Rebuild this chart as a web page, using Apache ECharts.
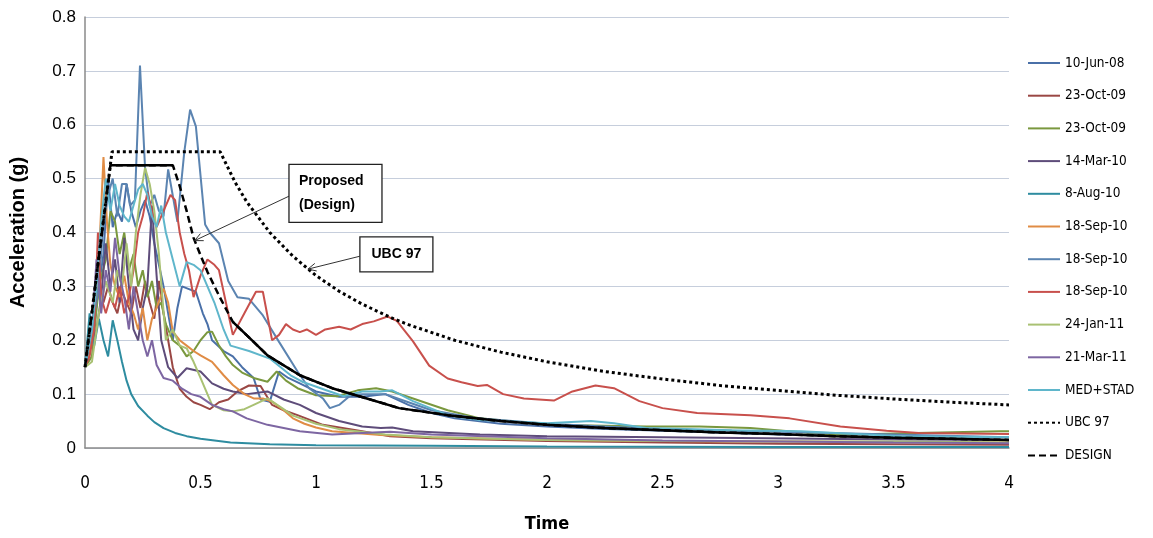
<!DOCTYPE html>
<html>
<head>
<meta charset="utf-8">
<script src="https://cdn.jsdelivr.net/npm/echarts@6/dist/echarts.min.js"></script>
<style>
  html, body { margin: 0; padding: 0; background: #fff; }
  #chart { width: 1153px; height: 538px; }
</style>
</head>
<body>
<div id="chart"></div>
<script>
// Response spectra of recorded ground motions, [period (s), spectral acceleration (g)]
const rec10Jun08 = [[0,0.15],[0.03,0.2],[0.06,0.3],[0.08,0.36],[0.1,0.5],[0.12,0.41],[0.14,0.44],[0.16,0.42],[0.18,0.49],[0.2,0.44],[0.22,0.41],[0.24,0.44],[0.26,0.46],[0.28,0.43],[0.3,0.38],[0.32,0.34],[0.34,0.3],[0.36,0.25],[0.38,0.2],[0.4,0.26],[0.42,0.3],[0.45,0.295],[0.48,0.29],[0.51,0.25],[0.53,0.23],[0.55,0.2],[0.6,0.18],[0.64,0.17],[0.68,0.15],[0.73,0.13],[0.76,0.09],[0.8,0.086],[0.84,0.142],[0.88,0.13],[0.93,0.12],[1.0,0.105],[1.1,0.095],[1.2,0.095],[1.3,0.1],[1.4,0.08],[1.5,0.065],[1.6,0.055],[1.8,0.045],[2.0,0.04],[2.2,0.036],[2.5,0.032],[3.0,0.025],[3.5,0.02],[4.0,0.015]];
const rec23Oct09a = [[0,0.15],[0.03,0.2],[0.06,0.3],[0.08,0.27],[0.1,0.3],[0.12,0.27],[0.14,0.25],[0.16,0.29],[0.18,0.27],[0.2,0.25],[0.22,0.3],[0.24,0.26],[0.26,0.31],[0.28,0.27],[0.3,0.24],[0.32,0.31],[0.34,0.25],[0.36,0.2],[0.38,0.15],[0.41,0.11],[0.44,0.095],[0.47,0.085],[0.5,0.08],[0.54,0.072],[0.58,0.085],[0.62,0.09],[0.66,0.105],[0.71,0.116],[0.76,0.115],[0.81,0.08],[0.86,0.07],[0.92,0.061],[1.03,0.043],[1.2,0.031],[1.32,0.022],[1.5,0.018],[2.0,0.013],[2.5,0.01],[3.0,0.008],[3.5,0.007],[4.0,0.006]];
const rec23Oct09b = [[0,0.15],[0.03,0.17],[0.06,0.3],[0.09,0.35],[0.11,0.44],[0.13,0.42],[0.15,0.36],[0.17,0.4],[0.19,0.33],[0.21,0.36],[0.23,0.3],[0.25,0.33],[0.27,0.28],[0.29,0.31],[0.31,0.26],[0.33,0.27],[0.35,0.23],[0.38,0.2],[0.41,0.19],[0.44,0.17],[0.47,0.18],[0.5,0.2],[0.53,0.215],[0.55,0.216],[0.58,0.19],[0.61,0.17],[0.64,0.154],[0.68,0.14],[0.73,0.13],[0.79,0.123],[0.83,0.142],[0.87,0.125],[0.92,0.111],[1.0,0.098],[1.09,0.096],[1.18,0.107],[1.26,0.111],[1.33,0.105],[1.42,0.092],[1.57,0.07],[1.71,0.055],[2.0,0.043],[2.43,0.04],[2.66,0.04],[2.88,0.037],[3.24,0.024],[3.6,0.028],[3.96,0.031],[4.0,0.031]];
const rec14Mar10 = [[0,0.15],[0.03,0.2],[0.05,0.22],[0.07,0.28],[0.09,0.38],[0.11,0.3],[0.13,0.35],[0.15,0.27],[0.17,0.39],[0.19,0.3],[0.21,0.22],[0.23,0.2],[0.25,0.26],[0.27,0.3],[0.29,0.45],[0.31,0.32],[0.33,0.2],[0.36,0.15],[0.4,0.13],[0.44,0.148],[0.5,0.142],[0.55,0.12],[0.6,0.11],[0.64,0.105],[0.7,0.1],[0.79,0.105],[0.86,0.09],[0.93,0.08],[1.0,0.065],[1.1,0.05],[1.2,0.04],[1.28,0.037],[1.33,0.038],[1.42,0.031],[1.71,0.025],[2.0,0.022],[2.5,0.02],[2.95,0.018],[3.5,0.016],[4.0,0.015]];
const rec8Aug10 = [[0,0.15],[0.02,0.25],[0.04,0.19],[0.06,0.24],[0.08,0.2],[0.1,0.17],[0.12,0.237],[0.14,0.2],[0.16,0.16],[0.18,0.125],[0.2,0.1],[0.23,0.078],[0.27,0.06],[0.3,0.048],[0.34,0.037],[0.39,0.028],[0.44,0.022],[0.5,0.017],[0.63,0.01],[0.8,0.007],[1.0,0.005],[1.5,0.004],[2.0,0.003],[3.0,0.002],[4.0,0.002]];
const rec18Sep10a = [[0,0.15],[0.03,0.2],[0.06,0.35],[0.08,0.54],[0.095,0.42],[0.11,0.34],[0.13,0.3],[0.15,0.28],[0.17,0.32],[0.19,0.27],[0.21,0.25],[0.23,0.22],[0.25,0.26],[0.27,0.2],[0.29,0.24],[0.31,0.26],[0.34,0.296],[0.36,0.27],[0.38,0.216],[0.41,0.2],[0.44,0.19],[0.47,0.18],[0.5,0.172],[0.55,0.16],[0.6,0.135],[0.64,0.117],[0.69,0.1],[0.73,0.092],[0.77,0.092],[0.81,0.086],[0.86,0.07],[0.9,0.055],[0.95,0.045],[1.0,0.038],[1.07,0.031],[1.28,0.024],[1.5,0.02],[2.0,0.015],[2.5,0.013],[3.0,0.012],[3.5,0.011],[4.0,0.01]];
const rec18Sep10b = [[0,0.15],[0.03,0.22],[0.06,0.3],[0.08,0.42],[0.1,0.47],[0.12,0.5],[0.14,0.43],[0.16,0.49],[0.18,0.49],[0.195,0.45],[0.216,0.46],[0.238,0.71],[0.26,0.52],[0.28,0.45],[0.3,0.47],[0.32,0.44],[0.34,0.43],[0.36,0.517],[0.4,0.42],[0.43,0.55],[0.455,0.628],[0.48,0.597],[0.52,0.415],[0.54,0.4],[0.58,0.38],[0.62,0.31],[0.66,0.28],[0.71,0.277],[0.77,0.246],[0.84,0.197],[0.92,0.142],[0.97,0.111],[1.03,0.092],[1.06,0.074],[1.1,0.08],[1.15,0.098],[1.2,0.1],[1.3,0.1],[1.4,0.085],[1.5,0.07],[1.7,0.055],[2.0,0.045],[2.5,0.035],[3.0,0.03],[3.5,0.025],[4.0,0.02]];
const rec18Sep10c = [[0,0.15],[0.02,0.17],[0.04,0.22],[0.056,0.4],[0.07,0.28],[0.09,0.25],[0.11,0.28],[0.13,0.26],[0.15,0.3],[0.17,0.25],[0.19,0.28],[0.21,0.33],[0.23,0.4],[0.25,0.43],[0.27,0.475],[0.29,0.44],[0.31,0.41],[0.33,0.43],[0.35,0.45],[0.37,0.47],[0.39,0.46],[0.41,0.4],[0.43,0.36],[0.45,0.33],[0.47,0.28],[0.5,0.32],[0.53,0.35],[0.56,0.34],[0.58,0.33],[0.61,0.27],[0.64,0.21],[0.69,0.25],[0.74,0.29],[0.77,0.29],[0.81,0.2],[0.84,0.21],[0.87,0.23],[0.9,0.22],[0.93,0.215],[0.96,0.22],[1.0,0.21],[1.04,0.22],[1.1,0.225],[1.15,0.22],[1.2,0.23],[1.25,0.235],[1.31,0.244],[1.35,0.236],[1.42,0.198],[1.49,0.153],[1.57,0.129],[1.63,0.122],[1.7,0.115],[1.74,0.117],[1.81,0.1],[1.9,0.092],[2.03,0.088],[2.11,0.105],[2.21,0.116],[2.29,0.111],[2.4,0.087],[2.5,0.074],[2.65,0.065],[2.88,0.061],[3.05,0.055],[3.27,0.04],[3.47,0.032],[3.61,0.028],[4.0,0.026]];
const rec24Jan11 = [[0,0.15],[0.03,0.16],[0.06,0.25],[0.09,0.31],[0.12,0.27],[0.14,0.33],[0.16,0.3],[0.18,0.38],[0.2,0.3],[0.22,0.4],[0.24,0.47],[0.26,0.52],[0.28,0.49],[0.3,0.44],[0.32,0.36],[0.35,0.2],[0.38,0.22],[0.41,0.19],[0.44,0.185],[0.47,0.16],[0.5,0.13],[0.53,0.1],[0.55,0.08],[0.6,0.07],[0.64,0.068],[0.69,0.072],[0.73,0.08],[0.79,0.092],[0.85,0.075],[0.9,0.06],[1.0,0.045],[1.1,0.035],[1.3,0.025],[1.5,0.02],[2.0,0.015],[2.5,0.013],[3.0,0.012],[3.5,0.012],[4.0,0.01]];
const rec21Mar11 = [[0,0.15],[0.03,0.22],[0.05,0.35],[0.07,0.25],[0.09,0.33],[0.11,0.29],[0.13,0.39],[0.15,0.32],[0.17,0.28],[0.19,0.22],[0.21,0.3],[0.23,0.25],[0.25,0.2],[0.27,0.17],[0.29,0.2],[0.31,0.154],[0.34,0.13],[0.38,0.125],[0.42,0.11],[0.46,0.1],[0.5,0.095],[0.55,0.08],[0.6,0.072],[0.64,0.068],[0.7,0.055],[0.79,0.043],[0.93,0.031],[1.07,0.025],[1.2,0.028],[1.32,0.03],[1.5,0.025],[2.0,0.018],[2.5,0.014],[3.0,0.012],[3.5,0.01],[4.0,0.009]];
const recMedStad = [[0,0.15],[0.03,0.22],[0.05,0.3],[0.07,0.42],[0.09,0.5],[0.11,0.44],[0.13,0.49],[0.15,0.45],[0.17,0.43],[0.19,0.42],[0.21,0.45],[0.23,0.48],[0.25,0.49],[0.27,0.47],[0.29,0.43],[0.31,0.41],[0.33,0.45],[0.35,0.4],[0.38,0.35],[0.41,0.3],[0.44,0.345],[0.47,0.34],[0.5,0.33],[0.53,0.3],[0.56,0.27],[0.6,0.22],[0.63,0.19],[0.71,0.18],[0.8,0.166],[0.89,0.135],[0.94,0.123],[1.06,0.105],[1.12,0.096],[1.2,0.105],[1.28,0.105],[1.33,0.107],[1.42,0.087],[1.57,0.061],[1.71,0.052],[2.0,0.046],[2.19,0.05],[2.29,0.046],[2.43,0.037],[2.8,0.033],[3.1,0.031],[3.53,0.022],[4.0,0.02]];

const recordLabels = ['10-Jun-08','23-Oct-09','23-Oct-09','14-Mar-10','8-Aug-10','18-Sep-10','18-Sep-10','18-Sep-10','24-Jan-11','21-Mar-11','MED+STAD'];
const recordData = [rec10Jun08, rec23Oct09a, rec23Oct09b, rec14Mar10, rec8Aug10, rec18Sep10a, rec18Sep10b, rec18Sep10c, rec24Jan11, rec21Mar11, recMedStad];
const recordColors = ['#4A70A8','#9A4744','#7A983E','#5E4C7A','#2E8CA0','#E08C45','#5B84B1','#C8504C','#A9C173','#7D66A2','#5FB6CB'];

// UBC 97 code spectrum
const ubcT = [0,0.117,0.585,0.65,0.7,0.8,0.9,1.0,1.1,1.2,1.33,1.4,1.6,1.8,2.0,2.25,2.5,2.75,3.0,3.25,3.5,3.75,4.0];
const ubcA = [0.15,0.55,0.55,0.493,0.457,0.40,0.356,0.32,0.291,0.267,0.241,0.229,0.2,0.178,0.16,0.142,0.128,0.116,0.107,0.098,0.091,0.085,0.08];

// Proposed design spectrum
const designT = [0,0.11,0.38,0.41,0.44,0.47,0.5,0.53,0.58,0.64,0.73,0.79,0.93,1.07,1.22,1.36,1.57,1.8,2.0,2.25,2.5,2.75,3.0,3.25,3.5,3.75,4.0];
const designA = [0.15,0.525,0.525,0.486,0.44,0.39,0.358,0.327,0.283,0.234,0.197,0.172,0.135,0.111,0.092,0.074,0.061,0.05,0.043,0.037,0.033,0.029,0.026,0.022,0.019,0.017,0.015];

const yTicks = ['0','0.1','0.2','0.3','0.4','0.5','0.6','0.7','0.8'];
const xTicks = ['0','0.5','1','1.5','2','2.5','3','3.5','4'];

const NARROW = "'DejaVu Sans Condensed', 'Liberation Sans', sans-serif";
const REGULAR = "'Liberation Sans', Arial, sans-serif";

const chart = echarts.init(document.getElementById('chart'), null, { renderer: 'canvas' });

const keyOf = (label, i) => label + '#' + i;
const series = recordData.map((d, i) => ({
  name: keyOf(recordLabels[i], i),
  type: 'line',
  data: d,
  symbol: 'none',
  lineStyle: { color: recordColors[i], width: 2 },
  itemStyle: { color: recordColors[i] },
  z: 2 + i
}));

series.push({
  name: keyOf('UBC 97', 11),
  type: 'line',
  data: ubcT.map((t, i) => [t, ubcA[i]]),
  symbol: 'none',
  lineStyle: { color: '#000', width: 3, type: [3, 3] },
  itemStyle: { color: '#000' },
  z: 20
});
series.push({
  name: keyOf('DESIGN', 12),
  type: 'line',
  data: designT.map((t, i) => [t, designA[i]]),
  symbol: 'none',
  lineStyle: { color: '#000', width: 2.5, type: [7, 4] },
  itemStyle: { color: '#000' },
  z: 21
});
// solid trace of the proposed spectrum (plateau and descending branch)
series.push({
  name: 'Proposed',
  type: 'line',
  data: designT.map((t, i) => [t, (t < 0.11 || (t > 0.38 && t < 0.64)) ? '-' : designA[i]]),
  symbol: 'none',
  connectNulls: false,
  lineStyle: { color: '#000', width: 2.5 },
  itemStyle: { color: '#000' },
  z: 22
});

const legendNames = recordLabels.map((l, i) => keyOf(l, i)).concat([keyOf('UBC 97', 11), keyOf('DESIGN', 12)]);

chart.setOption({
  animation: false,
  backgroundColor: '#fff',
  grid: { left: 85, right: 144, top: 17, bottom: 88, containLabel: false },
  xAxis: {
    type: 'value', min: 0, max: 4, interval: 0.5,
    name: 'Time', nameLocation: 'middle', nameGap: 67,
    nameTextStyle: { fontFamily: NARROW, fontWeight: 'bold', fontSize: 18, color: '#000' },
    axisLine: { show: true, lineStyle: { color: '#8a8a8a', width: 1.5 } },
    axisTick: { show: false },
    splitLine: { show: false },
    axisLabel: {
      margin: 27, fontFamily: NARROW, fontSize: 17, color: '#000',
      formatter: (v) => xTicks[Math.round(v / 0.5)]
    }
  },
  yAxis: {
    type: 'value', min: 0, max: 0.8, interval: 0.1,
    name: 'Acceleration (g)', nameLocation: 'middle', nameGap: 57, nameRotate: 90,
    nameTextStyle: { fontFamily: REGULAR, fontWeight: 'bold', fontSize: 20, color: '#000' },
    axisLine: { show: true, lineStyle: { color: '#8a8a8a', width: 1.5 } },
    axisTick: { show: false },
    splitLine: { show: true, lineStyle: { color: '#c6cedc', width: 1 } },
    axisLabel: {
      margin: 9, fontFamily: REGULAR, fontSize: 17, color: '#000',
      formatter: (v) => yTicks[Math.round(v / 0.1)]
    }
  },
  legend: {
    data: legendNames,
    orient: 'vertical',
    left: 1022, top: 51,
    itemWidth: 32, itemHeight: 14, itemGap: 18.7,
    itemStyle: { opacity: 0 },
    formatter: (n) => n.split('#')[0],
    textStyle: { fontFamily: NARROW, fontSize: 13.5, color: '#000', lineHeight: 14 }
  },
  series: series
});

// Annotation call-outs anchored in data units
const notes = [
  { lines: ['Proposed', '(Design)'], box: [0.883, 0.5266], w: 93, h: 58, tip: [0.475, 0.385], align: 'left' },
  { lines: ['UBC 97'], box: [1.19, 0.3917], w: 73, h: 35, tip: [0.965, 0.332], align: 'center' }
];

const graphics = [];
notes.forEach((n) => {
  const [bx, by] = chart.convertToPixel({ gridIndex: 0 }, n.box);
  const [tx, ty] = chart.convertToPixel({ gridIndex: 0 }, n.tip);
  const sx = bx, sy = by + n.h * 0.55;
  const ang = Math.atan2(sy - ty, sx - tx);
  const len = 9, spread = 0.45;
  graphics.push({
    type: 'line', z: 100,
    shape: { x1: sx, y1: sy, x2: tx, y2: ty },
    style: { stroke: '#333', lineWidth: 1 }
  });
  graphics.push({
    type: 'polyline', z: 100,
    shape: { points: [
      [tx + len * Math.cos(ang + spread), ty + len * Math.sin(ang + spread)],
      [tx, ty],
      [tx + len * Math.cos(ang - spread), ty + len * Math.sin(ang - spread)]
    ] },
    style: { stroke: '#333', lineWidth: 1, fill: null }
  });
  graphics.push({
    type: 'rect', z: 100,
    shape: { x: bx, y: by, width: n.w, height: n.h },
    style: { fill: '#fff', stroke: '#222', lineWidth: 1.3 }
  });
  const lh = n.h / (n.lines.length + 0.4);
  n.lines.forEach((txt, k) => {
    graphics.push({
      type: 'text', z: 101,
      style: {
        text: txt,
        x: n.align === 'left' ? bx + 10 : bx + n.w / 2,
        y: by + n.h / 2 + (k - (n.lines.length - 1) / 2) * lh,
        align: n.align, verticalAlign: 'middle',
        font: "bold 14px 'Liberation Sans'", fill: '#000'
      }
    });
  });
});

chart.setOption({ graphic: graphics });
</script>
</body>
</html>
